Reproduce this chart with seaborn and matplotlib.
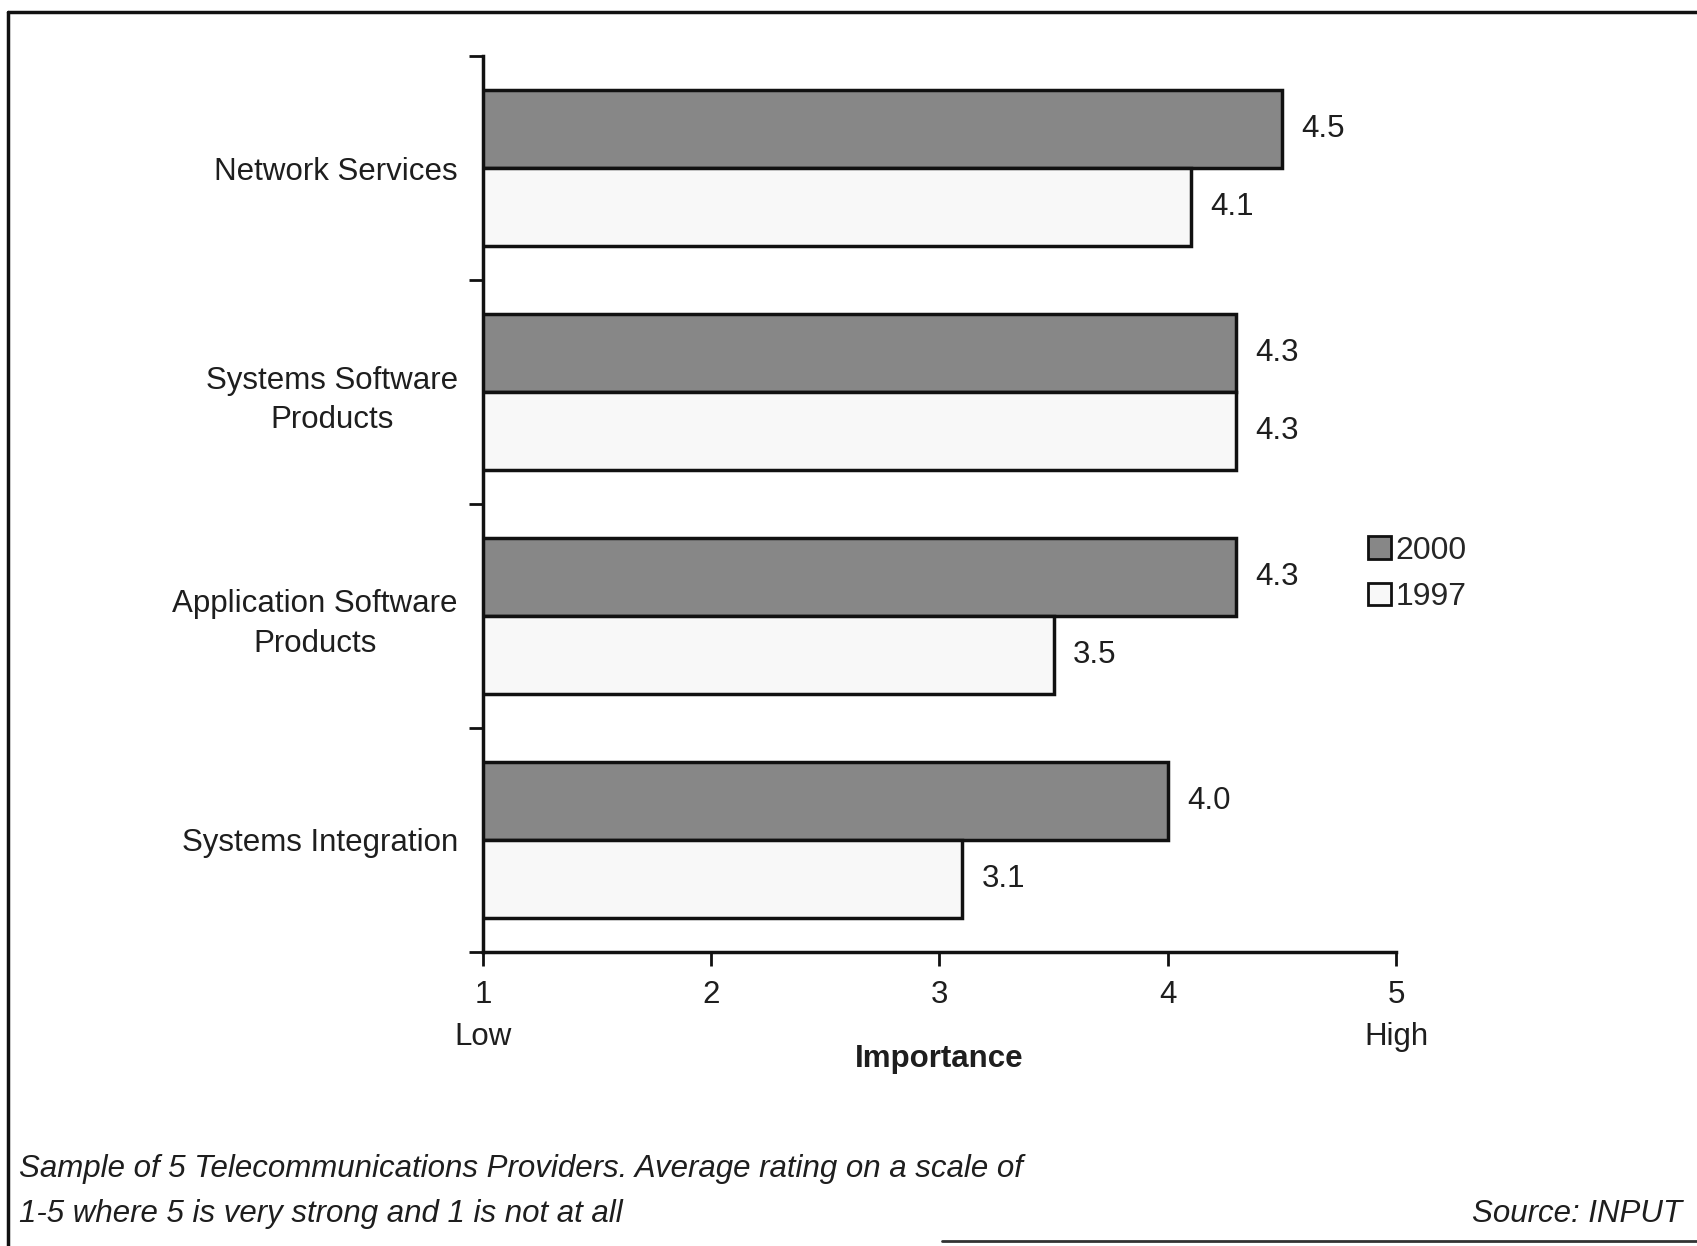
import matplotlib
matplotlib.use("Agg")
import matplotlib.pyplot as plt
from matplotlib.lines import Line2D
import seaborn as sns
import pandas as pd

categories = ["Network Services", "Systems Software\nProducts",
              "Application Software\nProducts", "Systems Integration"]
series_names = ["2000", "1997"]
values_2000 = [4.5, 4.3, 4.3, 4.0]
values_1997 = [4.1, 4.3, 3.5, 3.1]
x_ticks = [1, 2, 3, 4, 5]
x_ticklabels = ["1\nLow", "2", "3", "4", "5\nHigh"]

df = pd.DataFrame({
    "category": categories * 2,
    "year": [series_names[0]] * 4 + [series_names[1]] * 4,
    "value": values_2000 + values_1997,
})

sns.set_theme(style="white")
plt.rcParams["font.family"] = ["Liberation Sans", "DejaVu Sans"]

FS = 22.5
TXT = "#1e1e1e"

fig = plt.figure(figsize=(16.97, 12.46), dpi=100)
ax = fig.add_axes([0.2846, 0.236, 0.538, 0.719])

palette = {"2000": "#878787", "1997": "#f8f8f8"}
sns.barplot(data=df, y="category", x="value", hue="year", orient="h",
            palette=palette, width=0.7, edgecolor="#111111", linewidth=2.5,
            ax=ax, legend=False, saturation=1)

ax.set_xlim(1, 5)
ax.set_ylim(3.5, -0.5)

# value labels
for cont, vals in zip(ax.containers, [values_2000, values_1997]):
    ax.bar_label(cont, labels=[f"{v:.1f}" for v in vals], padding=14,
                 fontsize=FS, color=TXT)

# spines
for s in ["top", "right"]:
    ax.spines[s].set_visible(False)
for s in ["left", "bottom"]:
    ax.spines[s].set_color("#111111")
    ax.spines[s].set_linewidth(2.5)

ax.set_xticks(x_ticks)
ax.set_xticklabels(x_ticklabels, fontsize=FS, color=TXT, linespacing=1.55)
ax.tick_params(axis="x", direction="out", length=10, width=2, color="#111111",
               bottom=True, pad=10)
for lbl in ax.get_xticklabels():
    lbl.set_verticalalignment("top")

# y ticks at boundaries (minor), labels at centers
ax.set_yticks(range(len(categories)))
ax.set_yticklabels(categories, fontsize=FS, color=TXT,
                   multialignment="center", linespacing=1.4)
ax.tick_params(axis="y", which="major", length=0, pad=18)
ax.set_yticks([-0.5, 0.5, 1.5, 2.5, 3.5], minor=True)
ax.tick_params(axis="y", which="minor", direction="out", length=10, width=2,
               color="#111111", left=True)

ax.set_ylabel("")
ax.set_xlabel("Importance", fontsize=FS, fontweight="bold", color=TXT,
              labelpad=-6)

# legend
handles = [plt.Rectangle((0, 0), 1, 1, facecolor=palette[n], edgecolor="#111111",
                         linewidth=2) for n in series_names]
fig.legend(handles, series_names, loc="upper left", bbox_to_anchor=(0.797, 0.583),
           frameon=False, fontsize=23, handlelength=0.7, handleheight=0.7,
           handletextpad=0.15, labelspacing=0.52, borderpad=0)

# footer notes
fig.text(0.011, 0.062, "Sample of 5 Telecommunications Providers. Average rating on a scale of",
         fontsize=FS, style="italic", color=TXT, va="center")
fig.text(0.011, 0.026, "1-5 where 5 is very strong and 1 is not at all",
         fontsize=FS, style="italic", color=TXT, va="center")
fig.text(0.991, 0.026, "Source: INPUT", fontsize=FS, style="italic",
         color=TXT, va="center", ha="right")

# frame
fig.add_artist(Line2D([0.0047, 1.0], [0.9905, 0.9905], color="#111111", lw=2.5,
                      transform=fig.transFigure))
fig.add_artist(Line2D([0.0047, 0.0047], [0.0, 0.9905], color="#111111", lw=2.5,
                      transform=fig.transFigure))
fig.add_artist(Line2D([0.555, 1.0], [0.004, 0.004], color="#333333", lw=2,
                      transform=fig.transFigure))

fig.savefig("out.png", dpi=100)
